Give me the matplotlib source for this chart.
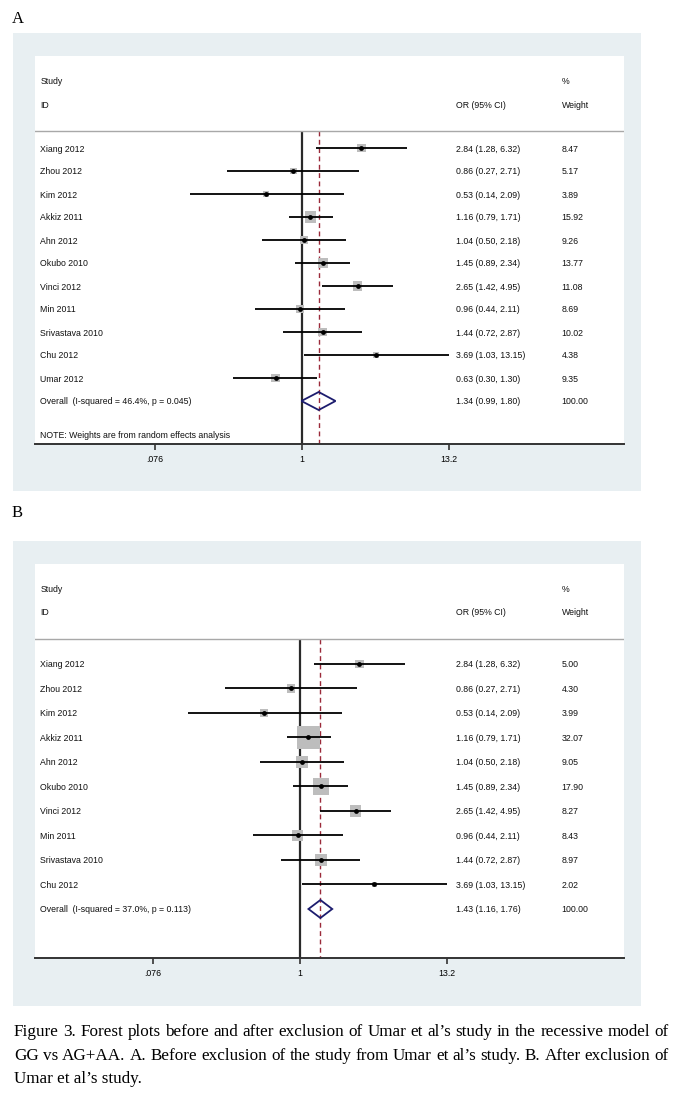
import numpy as np
import matplotlib
matplotlib.use("Agg")
import matplotlib.pyplot as plt
from matplotlib.patches import Rectangle, Polygon

# study data (panel A = all studies, panel B = Umar 2012 excluded)
studies_a = ["Xiang 2012", "Zhou 2012", "Kim 2012", "Akkiz 2011", "Ahn 2012", "Okubo 2010",
             "Vinci 2012", "Min 2011", "Srivastava 2010", "Chu 2012", "Umar 2012"]
or_a = [2.84, 0.86, 0.53, 1.16, 1.04, 1.45, 2.65, 0.96, 1.44, 3.69, 0.63]
lo_a = [1.28, 0.27, 0.14, 0.79, 0.50, 0.89, 1.42, 0.44, 0.72, 1.03, 0.30]
hi_a = [6.32, 2.71, 2.09, 1.71, 2.18, 2.34, 4.95, 2.11, 2.87, 13.15, 1.30]
wt_a = [8.47, 5.17, 3.89, 15.92, 9.26, 13.77, 11.08, 8.69, 10.02, 4.38, 9.35]
overall_a = (1.34, 0.99, 1.80)
overall_lab_a = "Overall  (I-squared = 46.4%, p = 0.045)"

studies_b = studies_a[:10]
or_b = or_a[:10]
lo_b = lo_a[:10]
hi_b = hi_a[:10]
wt_b = [5.00, 4.30, 3.99, 32.07, 9.05, 17.90, 8.27, 8.43, 8.97, 2.02]
overall_b = (1.43, 1.16, 1.76)
overall_lab_b = "Overall  (I-squared = 37.0%, p = 0.113)"

tick_vals = [0.076, 1, 13.2]
tick_labs = [".076", "1", "13.2"]

caption = [
    "Figure 3. Forest plots before and after exclusion of Umar et al\u2019s study in the recessive model of",
    "GG vs AG+AA. A. Before exclusion of the study from Umar et al\u2019s study. B. After exclusion of",
    "Umar et al\u2019s study.",
]

W, H = 683, 1102
fig = plt.figure(figsize=(W / 100, H / 100), dpi=100)
fig.patch.set_facecolor("white")
BG = "#e8eff2"
FS = 6.3
SANS = "Liberation Sans"
SERIF = "Liberation Serif"


def fx(px):
    return px / W


def fy(py):
    return 1 - py / H


def panel(letter, letter_y, box_top, box_bot, ax_top, ax_bot, center, row0, step,
          names, ors, los, his, wts, overall, ov_lab, box_k, note=False):
    fig.text(fx(12), fy(letter_y), letter, family=SERIF, fontsize=12, va="center")
    fig.patches.append(Rectangle((fx(13), fy(box_bot)), fx(641) - fx(13), (box_bot - box_top) / H,
                                 transform=fig.transFigure, facecolor=BG, edgecolor="none", zorder=-5))
    ax = fig.add_axes([fx(35), fy(ax_bot), fx(624) - fx(35), (ax_bot - ax_top) / H])
    ax.set_zorder(2)
    ax.set_facecolor("white")
    ax.set_xscale("log")
    ppl = 57.0
    ax.set_xlim(np.exp((35 - center) / ppl), np.exp((624 - center) / ppl))
    ybot = (ax_bot - row0) / step
    ax.set_ylim(ybot, (ax_top - row0) / step)
    hdr = (ax_top + 75 - row0) / step

    rows = np.arange(len(names))
    ax.hlines(rows, los, his, color="black", lw=1.3, zorder=3)
    side = box_k * np.sqrt(wts) * 0.72 * 1.12
    ax.scatter(ors, rows, marker="s", s=side ** 2, color="#bdbdbd", linewidths=0, zorder=2)
    ax.scatter(ors, rows, marker="o", s=12, color="black", linewidths=0, zorder=4)

    ov, ol, oh = overall
    yo = len(names)
    h = 9.0 / step
    ax.add_patch(Polygon([(ol, yo), (ov, yo - h), (oh, yo), (ov, yo + h)], closed=True,
                         fill=False, edgecolor="#1c1c6e", lw=1.3, zorder=3))

    ax.vlines(1, hdr, ybot, color="#2a2a2a", lw=1.6, zorder=1)
    ax.vlines(ov, hdr, ybot, color="#9b2a3a", lw=1.0, linestyles=(0, (3.5, 2.5)), zorder=1)
    ax.axhline(hdr, color="#a8a8a8", lw=1.0)

    tr = ax.get_yaxis_transform()
    kw = dict(transform=tr, fontsize=FS, family=SANS, va="center_baseline", color="#111111")
    ax.text(0.009, (ax_top + 25 - row0) / step, "Study", **kw)
    ax.text(0.009, (ax_top + 48 - row0) / step, "ID", **kw)
    ax.text(0.714, (ax_top + 48 - row0) / step, "OR (95% CI)", **kw)
    ax.text(0.894, (ax_top + 25 - row0) / step, "%", **kw)
    ax.text(0.894, (ax_top + 48 - row0) / step, "Weight", **kw)
    for i, nm in enumerate(names):
        ax.text(0.009, i, nm, **kw)
        ax.text(0.714, i, f"{ors[i]:.2f} ({los[i]:.2f}, {his[i]:.2f})", **kw)
        ax.text(0.894, i, f"{wts[i]:.2f}", **kw)
    ax.text(0.009, yo, ov_lab, **kw)
    ax.text(0.714, yo, f"{ov:.2f} ({ol:.2f}, {oh:.2f})", **kw)
    ax.text(0.894, yo, "100.00", **kw)
    if note:
        ax.text(0.009, (434 - row0) / step, "NOTE: Weights are from random effects analysis", **kw)

    for s in ["top", "left", "right"]:
        ax.spines[s].set_visible(False)
    ax.spines["bottom"].set_color("#333333")
    ax.spines["bottom"].set_linewidth(1.4)
    ax.set_yticks([])
    ax.set_xticks(tick_vals)
    ax.set_xticklabels(tick_labs, fontsize=FS, family=SANS)
    ax.minorticks_off()
    ax.tick_params(axis="x", length=4, width=1.2, color="#333333", pad=4)
    return ax


panel("A", 19, 33, 491, 56, 444, 302, 148, 23.0,
      studies_a, or_a, lo_a, hi_a, wt_a, overall_a, overall_lab_a, 2.5, note=True)
panel("B", 513, 541, 1006, 564, 958, 300, 664, 24.5,
      studies_b, or_b, lo_b, hi_b, wt_b, overall_b, overall_lab_b, 3.5)

# caption, justified like the journal text
renderer = fig.canvas.get_renderer()
cap_y = [1036, 1060, 1083]
for k, line in enumerate(caption):
    if k == len(caption) - 1:
        fig.text(fx(14), fy(cap_y[k]), line, family=SERIF, fontsize=12.3, va="baseline")
        continue
    words = line.split(" ")
    objs = [fig.text(0, fy(cap_y[k]), w, family=SERIF, fontsize=12.3, va="baseline") for w in words]
    widths = [o.get_window_extent(renderer).width for o in objs]
    gap = ((669 - 14) - sum(widths)) / (len(words) - 1)
    x = 14
    for o, w in zip(objs, widths):
        o.set_x(x / W)
        x += w + gap

fig.savefig("out.png", dpi=100, facecolor="white")
